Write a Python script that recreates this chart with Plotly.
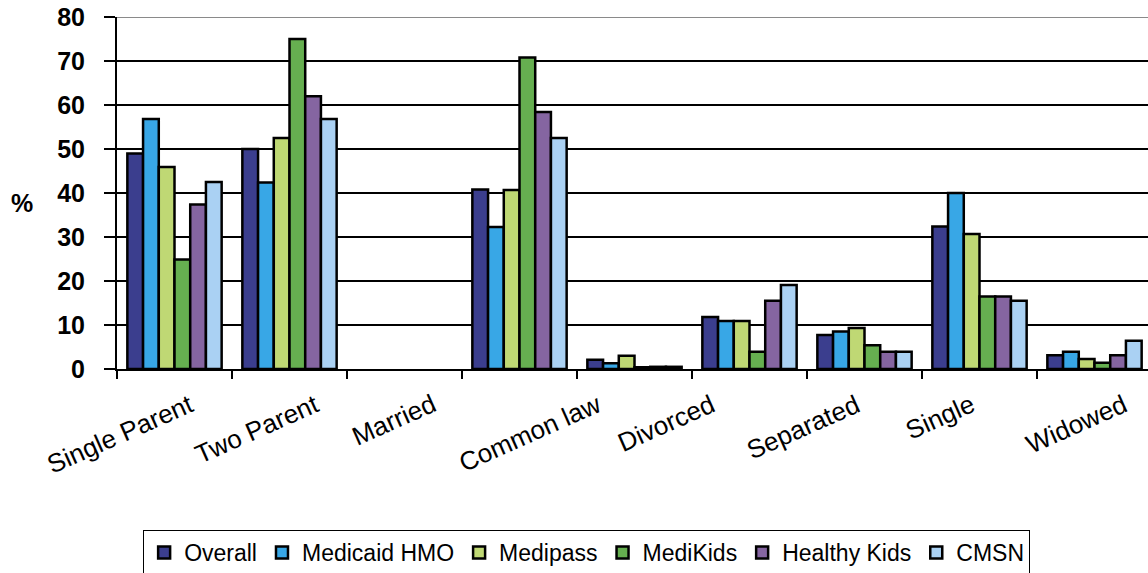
import plotly.graph_objects as go

# Bar slots along the x axis (one spacer slot kept empty)
groups = ["Single Parent", "Two Parent", " ", "Married", "Common law",
          "Divorced", "Separated", "Single", "Widowed"]

# Category captions printed under the axis
labels = ["Single Parent", "Two Parent", "Married", "Common law",
          "Divorced", "Separated", "Single", "Widowed"]

# Percentages per plan
overall = [49.0, 50.0, None, 40.8, 2.1, 11.8, 7.7, 32.4, 3.1]
medicaid_hmo = [56.8, 42.4, None, 32.3, 1.3, 10.9, 8.5, 40.0, 3.9]
medipass = [45.9, 52.5, None, 40.7, 3.0, 10.9, 9.3, 30.7, 2.3]
medikids = [24.9, 75.0, None, 70.8, 0.4, 3.9, 5.4, 16.5, 1.4]
healthy_kids = [37.4, 62.0, None, 58.4, 0.5, 15.5, 3.9, 16.5, 3.1]
cmsn = [42.5, 56.8, None, 52.5, 0.5, 19.1, 3.9, 15.5, 6.4]

series = [
    ("Overall", overall, "#3B3E8E"),
    ("Medicaid HMO", medicaid_hmo, "#38A7E6"),
    ("Medipass", medipass, "#BFD874"),
    ("MediKids", medikids, "#66AF50"),
    ("Healthy Kids", healthy_kids, "#8565A1"),
    ("CMSN", cmsn, "#AAD1F3"),
]

FONT = "Liberation Sans, Arial, sans-serif"

fig = go.Figure()
for name, vals, color in series:
    fig.add_trace(go.Bar(
        name=name, x=groups, y=vals,
        marker=dict(color=color, line=dict(color="black", width=2.5)),
    ))

W, H = 1148, 573
L, R, T, B = 117, 0, 17, 204

fig.update_layout(
    width=W, height=H,
    margin=dict(l=L, r=R, t=T, b=B, pad=0),
    paper_bgcolor="white", plot_bgcolor="white",
    barmode="group", bargap=0.18, bargroupgap=0,
    font=dict(family=FONT, color="black"),
    showlegend=True,
    legend=dict(
        orientation="h",
        xref="container", yref="container",
        x=0.511, xanchor="center",
        y=1 - 530 / H, yanchor="top",
        bordercolor="black", borderwidth=1, bgcolor="white",
        font=dict(family=FONT, size=23, color="black"),
        itemclick=False,
    ),
)

fig.update_xaxes(
    type="category",
    range=[-0.5, len(groups) - 0.5 - 4 / 115],
    showticklabels=False,
    tickson="boundaries",
    ticks="outside", ticklen=8, tickwidth=2, tickcolor="black",
    showline=True, linecolor="black", linewidth=2,
    showgrid=False, fixedrange=True,
)

fig.update_yaxes(
    range=[0, 80], tickmode="linear", tick0=0, dtick=10,
    showgrid=True, gridcolor="black", gridwidth=2,
    zeroline=False,
    showline=True, linecolor="black", linewidth=2,
    ticks="outside", ticklen=11, tickwidth=2, tickcolor="black",
    ticklabelstandoff=14,
    tickfont=dict(family=FONT, size=25, color="black", weight="bold"),
    fixedrange=True,
)

# grey frame line along the top of the plot area
fig.add_shape(type="line", xref="paper", yref="y", x0=0, x1=1, y0=80, y1=80,
              line=dict(color="#8A8A8A", width=2), layer="above")

# y-axis unit
plot_w = W - L - R
plot_h = H - T - B
fig.add_annotation(text="%", xref="paper", yref="paper",
                   x=(22 - L) / plot_w, y=(H - B - 203) / plot_h,
                   showarrow=False, xanchor="center", yanchor="middle",
                   font=dict(family=FONT, size=25, color="black", weight="bold"))

# rotated category captions, evenly spread under the axis
span_left = (52 - L) / plot_w
span_right = (1145 - L) / plot_w
cell = (span_right - span_left) / len(labels)
for i, lab in enumerate(labels):
    fig.add_annotation(text=lab, xref="paper", yref="paper",
                       x=span_left + cell * (i + 0.5), y=(H - B - 386) / plot_h,
                       showarrow=False, xanchor="center", yanchor="top",
                       textangle=-24,
                       font=dict(family=FONT, size=26, color="black"))

fig.write_html("out.html")
